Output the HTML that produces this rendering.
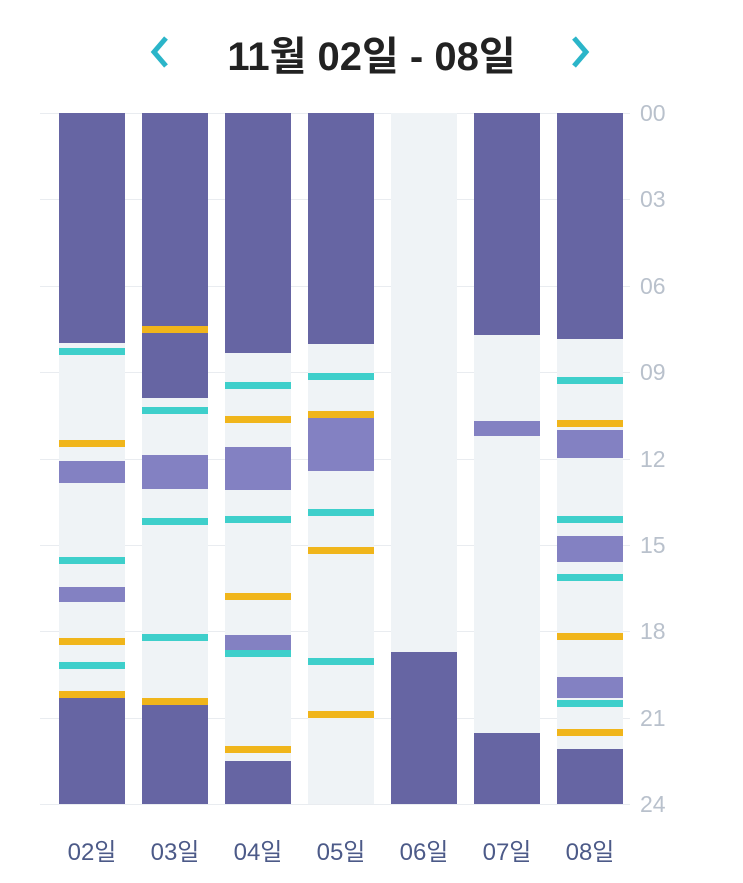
<!DOCTYPE html><html><head><meta charset="utf-8"><style>
body{margin:0;width:743px;height:883px;background:#fff;position:relative;overflow:hidden;font-family:"Liberation Sans","Noto Sans CJK KR",sans-serif}
div{position:absolute}
.c{top:113px;height:691px;width:66px;background:#eff3f6}
.g{left:40px;width:590px;height:1px;background:#e9ecf0}
.r{left:640px;font-size:23px;color:#b9c1cc;line-height:1}
.b{top:832px;font-size:24px;color:#4c5a88;width:80px;text-align:center}
</style></head><body>
<div style="left:0;width:743px;top:24px;text-align:center;font-size:40px;font-weight:bold;color:#222">11월 02일 - 08일</div>
<svg style="position:absolute;left:146px;top:34px" width="28" height="36"><polyline points="20,4 8,18 20,32" fill="none" stroke="#2bb5c9" stroke-width="5"/></svg>
<svg style="position:absolute;left:566px;top:34px" width="28" height="36"><polyline points="8,4 20,18 8,32" fill="none" stroke="#2bb5c9" stroke-width="5"/></svg>
<div id="g"></div>
<script>
const X=[59,142,225,308,391,474,557];
const D='#6665a3',L='#8381c2',T='#3ecfcb',Y='#f0b51b';
const data=[
[[D,113,343],[T,348,355],[Y,440,447],[L,461,483],[T,557,564],[L,587,602],[Y,638,645],[T,662,669],[Y,691,698],[D,698,804]],
[[D,113,326],[Y,326,333],[D,333,398],[T,407,414],[L,455,489],[T,518,525],[T,634,641],[Y,698,705],[D,705,804]],
[[D,113,353],[T,382,389],[Y,416,423],[L,447,490],[T,516,523],[Y,593,600],[L,635,650],[T,650,657],[Y,746,753],[D,761,804]],
[[D,113,344],[T,373,380],[Y,411,418],[L,418,471],[T,509,516],[Y,547,554],[T,658,665],[Y,711,718]],
[[D,652,804]],
[[D,113,335],[L,421,436],[D,733,804]],
[[D,113,339],[T,377,384],[Y,420,427],[L,430,458],[T,516,523],[L,536,562],[T,574,581],[Y,633,640],[L,677,698],[T,700,707],[Y,729,736],[D,749,804]]];
let h='';
for(let i=0;i<=8;i++){const y=113+i*691/8;h+=`<div class="g" style="top:${y}px"></div><div class="r" style="top:${y-11}px">${String(i*3).padStart(2,'0')}</div>`;}
X.forEach((x,i)=>{h+=`<div class="c" style="left:${x}px"></div>`;data[i].forEach(s=>{h+=`<div style="left:${x}px;width:66px;top:${s[1]}px;height:${s[2]-s[1]}px;background:${s[0]}"></div>`});h+=`<div class="b" style="left:${x-7}px">0${i+2}일</div>`;});
document.getElementById('g').outerHTML=h;
</script>
</body></html>
